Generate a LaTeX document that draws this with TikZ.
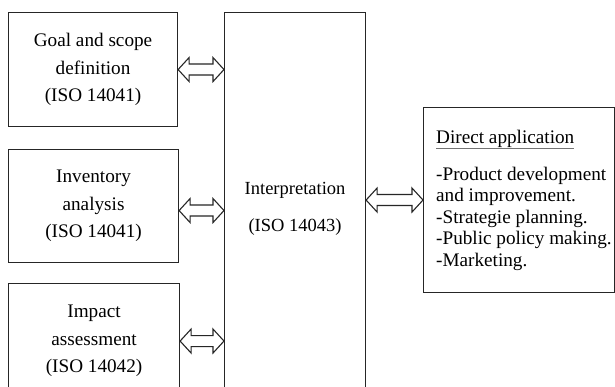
\documentclass[tikz,border=0pt]{standalone}
\usepackage{fontspec}
\setmainfont{Liberation Serif}
\usetikzlibrary{calc}
\newcommand\lbl{\fontsize{19.2}{27.5}\selectfont}
\newcommand\lblwide{\fontsize{18.5}{37}\selectfont}
\newcommand\apptxt{\fontsize{19.2}{21.5}\selectfont}
\tikzset{
  box/.style={draw=black!85, line width=1.1pt, rectangle, inner sep=0pt, align=center, font=\lbl},
  harrow/.style={draw=black!85, line width=1.1pt, fill=white, line join=miter},
  plaintext/.style={inner sep=0pt, align=left, font=\apptxt},
}
\newcommand\dblarr[2]{%
  \draw[harrow] let \p1=(#1), \p2=(#2) in
    (\x1,\y1) -- (\x1+11pt,\y1+12pt) -- (\x1+11pt,\y1+5.5pt) -- (\x2-11pt,\y1+5.5pt)
    -- (\x2-11pt,\y1+12pt) -- (\x2,\y1) -- (\x2-11pt,\y1-12pt) -- (\x2-11pt,\y1-5.5pt)
    -- (\x1+11pt,\y1-5.5pt) -- (\x1+11pt,\y1-12pt) -- cycle;}
\begin{document}
\begin{tikzpicture}[x=1pt,y=-1pt]
  \useasboundingbox (0,0) rectangle (615,387);
  \fill[white] (0,0) rectangle (615,387);
  \clip (0,0) rectangle (615,387);
  \node[box, anchor=north west, minimum width=169pt, minimum height=114pt] (goal) at (8,12)
    {Goal and scope\\definition\\(ISO 14041)};
  \node[box, anchor=north west, minimum width=170pt, minimum height=113pt] (inv) at (8,149)
    {Inventory\\analysis\\(ISO 14041)};
  \node[box, anchor=north west, minimum width=171pt, minimum height=115pt] (imp) at (8,283)
    {Impact\\assessment\\(ISO 14042)};
  \node[box, font=\lblwide, anchor=north west, minimum width=141pt, minimum height=393pt] (interp) at (224,12)
    {Interpretation\\(ISO 14043)};
  \node[box, anchor=north west, minimum width=191pt, minimum height=185pt] (app) at (423,107) {};
  \node[plaintext, anchor=west] (apptext) at ([xshift=13pt]app.west)
    {{\color{black!55}\underline{\color{black}Direct application}}\\[15.5pt]%
     -Product development\\and improvement.\\-Strategie planning.\\-Public policy making.\\-Marketing.};
  \dblarr{goal.east}{interp.west |- goal.east}
  \coordinate (c2) at ([yshift=-4.5pt]inv.east);
  \dblarr{c2}{interp.west |- c2}
  \dblarr{imp.east}{interp.west |- imp.east}
  \dblarr{interp.east |- app.west}{app.west}
\end{tikzpicture}
\end{document}
